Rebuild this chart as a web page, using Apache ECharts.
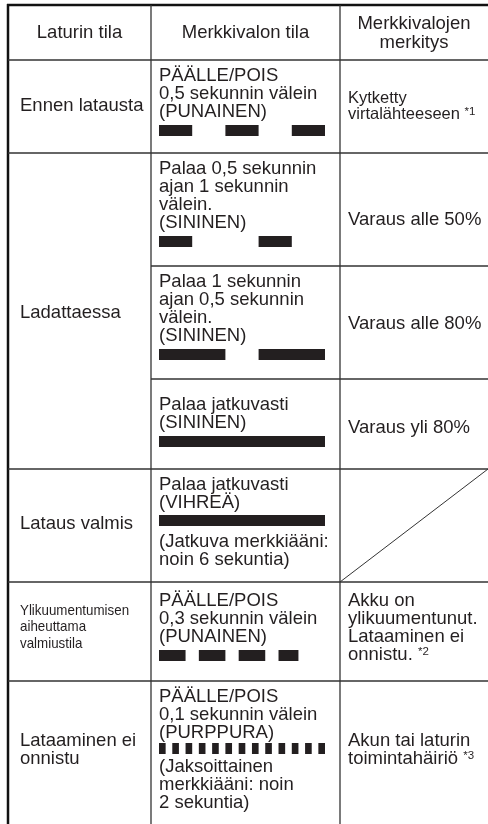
<!DOCTYPE html>
<html><head><meta charset="utf-8">
<script src="https://cdn.jsdelivr.net/npm/echarts@6/dist/echarts.min.js"></script>
<style>html,body{margin:0;padding:0;background:#fff}#c{width:488px;height:824px}</style>
</head><body><div id="c"></div><script>
// ---------- table content (data) ----------
const columnHeaders = ['Laturin tila', 'Merkkivalon tila', 'Merkkivalojen\nmerkitys'];
const chargerStates = ['Ennen latausta', 'Ladattaessa', 'Lataus valmis', 'Ylikuumentumisen\naiheuttama\nvalmiustila', 'Lataaminen ei\nonnistu'];
const lampModes = [
  'PÄÄLLE/POIS\n0,5 sekunnin välein\n(PUNAINEN)',
  'Palaa 0,5 sekunnin\najan 1 sekunnin\nvälein.\n(SININEN)',
  'Palaa 1 sekunnin\najan 0,5 sekunnin\nvälein.\n(SININEN)',
  'Palaa jatkuvasti\n(SININEN)',
  'Palaa jatkuvasti\n(VIHREÄ)',
  'PÄÄLLE/POIS\n0,3 sekunnin välein\n(PUNAINEN)',
  'PÄÄLLE/POIS\n0,1 sekunnin välein\n(PURPPURA)'
];
const lampNotes = ['', '', '', '', '(Jatkuva merkkiääni:\nnoin 6 sekuntia)', '', '(Jaksoittainen\nmerkkiääni: noin\n2 sekuntia)'];
const meanings = [
  'Kytketty\nvirtalähteeseen *1',
  'Varaus alle 50%',
  'Varaus alle 80%',
  'Varaus yli 80%',
  '',
  'Akku on\nylikuumentunut.\nLataaminen ei\nonnistu. *2',
  'Akun tai laturin\ntoimintahäiriö *3'
];
// lamp "on" periods in seconds, as drawn in each indicator strip
const lampOnSeconds = [
  [[0, 0.5], [1, 1.5], [2, 2.5]],
  [[0, 0.5], [1.5, 2]],
  [[0, 1], [1.5, 2.5]],
  [[0, 2.5]],
  [[0, 2.5]],
  [[0, 0.4], [0.6, 1.0], [1.2, 1.6], [1.8, 2.1]],
  [[0, 0.1], [0.2, 0.3], [0.4, 0.5], [0.6, 0.7], [0.8, 0.9], [1.0, 1.1], [1.2, 1.3], [1.4, 1.5], [1.6, 1.7], [1.8, 1.9], [2.0, 2.1], [2.2, 2.3], [2.4, 2.5]]
];
// which sub-rows each charger state spans
const stateRows = [[0, 0], [1, 3], [4, 4], [5, 5], [6, 6]];

// ---------- layout (positions / styles) ----------
const FONT = '"Liberation Sans", Arial, Helvetica, sans-serif';
const INK = '#231f20';
const FS = 18.5, PITCH = 18, BAR_H = 11;
const L = {
  colX: [8, 151, 340, 488],
  top: 5, headerBottom: 60, bottom: 824,
  rowY: [60, 153, 266, 379, 469, 582, 681, 824],
  midFirst: [76, 169, 282, 405, 485, 601, 697],
  barTop: [125, 236, 349, 436, 515, 650, 743],
  noteFirst: [0, 0, 0, 0, 542, 0, 767],
  rightFirst: [98, 220, 324, 428, 0, 601, 741],
  rightSize: [16.5, FS, FS, FS, FS, FS, FS],
  rightPitch: [16.5, PITCH, PITCH, PITCH, PITCH, PITCH, PITCH],
  leftCenter: [106, 313, 524, 627, 750],
  leftPitch: [18, 18, 18, 16.5, 18],
  leftSize: [FS, FS, FS, 15, FS],
  leftScaleX: [1, 1, 1, 0.89, 1],
  textX: [20, 159, 348],
  headerY: 33, headerPitch: 19
};

// ---------- build items ----------
const texts = [];
function addLines(str, x, yFirst, pitch, size, align, sx) {
  str.split('\n').forEach((s, k) => texts.push({ s, x, y: yFirst + k * pitch, size, align, sx: sx || 1 }));
}
[0, 1, 2].forEach(c => {
  const cx = (L.colX[c] + L.colX[c + 1]) / 2;
  const n = columnHeaders[c].split('\n').length;
  addLines(columnHeaders[c], cx, L.headerY - (n - 1) * L.headerPitch / 2, L.headerPitch, FS, 'center');
});
chargerStates.forEach((s, g) => {
  const n = s.split('\n').length;
  addLines(s, L.textX[0], L.leftCenter[g] - (n - 1) * L.leftPitch[g] / 2, L.leftPitch[g], L.leftSize[g], 'left', L.leftScaleX[g]);
});
lampModes.forEach((s, i) => addLines(s, L.textX[1], L.midFirst[i], PITCH, FS, 'left'));
lampNotes.forEach((s, i) => { if (s) addLines(s, L.textX[1], L.noteFirst[i], PITCH, FS, 'left'); });
meanings.forEach((s, i) => { if (s) addLines(s, L.textX[2], L.rightFirst[i], L.rightPitch[i], L.rightSize[i], 'left'); });

const segs = [];
segs.push([L.colX[0] - 1, L.top, L.colX[3], L.top, 1]);
segs.push([L.colX[0], L.top - 1, L.colX[0], L.bottom, 1]);
segs.push([L.colX[1], L.top, L.colX[1], L.bottom, 0]);
segs.push([L.colX[2], L.top, L.colX[2], L.bottom, 0]);
segs.push([L.colX[0], L.headerBottom, L.colX[3], L.headerBottom, 0]);
const groupStarts = stateRows.map(r => r[0]);
for (let i = 1; i < L.rowY.length - 1; i++) {
  const full = groupStarts.includes(i);
  segs.push([full ? L.colX[0] : L.colX[1], L.rowY[i], L.colX[3], L.rowY[i], 0]);
}
meanings.forEach((m, i) => { if (!m) segs.push([L.colX[2], L.rowY[i + 1], L.colX[3], L.rowY[i], 2]); });

const bars = [];
lampOnSeconds.forEach((list, i) => list.forEach(p => bars.push([p[0], p[1], i, L.barTop[i]])));

// ---------- chart ----------
const chart = echarts.init(document.getElementById('c'), null, { renderer: 'canvas' });
chart.setOption({
  animation: false,
  backgroundColor: '#fff',
  grid: [
    { left: 0, right: 0, top: 0, bottom: 0 },
    { left: 159, width: 166, top: 0, bottom: 0 }
  ],
  xAxis: [
    { type: 'value', min: 0, max: 488, show: false, gridIndex: 0 },
    { type: 'value', min: 0, max: 2.5, show: false, gridIndex: 1 }
  ],
  yAxis: [
    { type: 'value', min: 0, max: 824, inverse: true, show: false, gridIndex: 0 },
    { type: 'value', min: 0, max: 824, inverse: true, show: false, gridIndex: 1 }
  ],
  series: [
    {
      type: 'custom', name: 'rules', xAxisIndex: 0, yAxisIndex: 0, silent: true,
      data: segs, encode: { x: [0, 2], y: [1, 3] },
      renderItem: (params, api) => {
        const a = api.coord([api.value(0), api.value(1)]);
        const b = api.coord([api.value(2), api.value(3)]);
        const k = api.value(4);
        return {
          type: 'line', shape: { x1: a[0], y1: a[1], x2: b[0], y2: b[1] },
          style: { stroke: k === 1 ? '#111' : '#333', lineWidth: k === 1 ? 2.5 : (k === 2 ? 1 : 1.3) }
        };
      }
    },
    {
      type: 'custom', name: 'lamps', xAxisIndex: 1, yAxisIndex: 1, silent: true,
      data: bars, encode: { x: [0, 1], y: 3 },
      renderItem: (params, api) => {
        const s = api.coord([api.value(0), api.value(3)]);
        const e = api.coord([api.value(1), api.value(3) + BAR_H]);
        return { type: 'rect', shape: { x: s[0], y: s[1], width: e[0] - s[0], height: e[1] - s[1] }, style: { fill: INK } };
      }
    },
    {
      type: 'custom', name: 'texts', xAxisIndex: 0, yAxisIndex: 0, silent: true,
      data: texts.map((t, i) => [t.x, t.y, i]), encode: { x: 0, y: 1 },
      renderItem: (params, api) => {
        const t = texts[api.value(2)];
        const p = api.coord([api.value(0), api.value(1)]);
        const m = t.s.match(/^(.*?)(\*\d)$/);
        const style = {
          x: 0, y: 0, fill: INK, fontSize: t.size, fontFamily: FONT,
          align: t.align, verticalAlign: 'middle', textAlign: t.align, textVerticalAlign: 'middle'
        };
        if (m) {
          style.text = '{m|' + m[1] + '}{s|' + m[2] + '}';
          style.rich = {
            m: { fontSize: t.size, fontFamily: FONT, fill: INK, lineHeight: 18 },
            s: { fontSize: 11.5, fontFamily: FONT, fill: INK, lineHeight: 11, verticalAlign: 'top' }
          };
        } else {
          style.text = t.s;
        }
        return { type: 'text', x: p[0], y: p[1], scaleX: t.sx, style };
      }
    }
  ]
});
</script></body></html>
